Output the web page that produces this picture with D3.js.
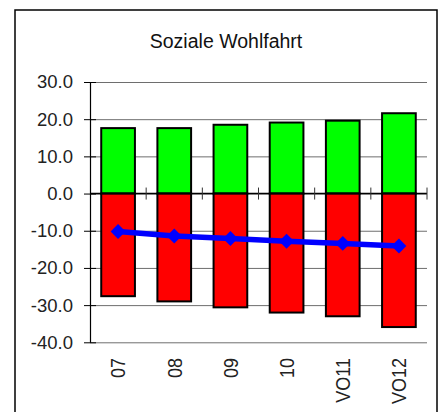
<!DOCTYPE html>
<html>
<head>
<meta charset="utf-8">
<script src="https://cdn.jsdelivr.net/npm/d3@7"></script>
<style>
  body { margin: 0; background: #fff; }
  svg { display: block; font-family: "Liberation Sans", Arial, sans-serif; }
</style>
</head>
<body>
<svg id="chart" width="445" height="412"></svg>
<script>
// values
var categories = ["07", "08", "09", "10", "VO11", "VO12"];
var positive = [17.6, 17.6, 18.5, 19.1, 19.6, 21.6];
var negative = [-27.6, -29.0, -30.6, -32.0, -33.0, -35.9];
var balance = [-10.2, -11.4, -12.1, -12.8, -13.4, -14.1];
var yTicks = [30, 20, 10, 0, -10, -20, -30, -40];

var svg = d3.select("#chart");
var margin = {left: 90, right: 18, top: 82, bottom: 70};
var plotRight = 445 - margin.right;
var plotBottom = 412 - margin.bottom;

// outer frame
svg.append("rect")
    .attr("x", 15).attr("y", 10)
    .attr("width", 422).attr("height", 420)
    .attr("fill", "none")
    .attr("stroke", "#000")
    .attr("stroke-width", 1.5);

svg.append("text")
    .attr("x", 226).attr("y", 48)
    .attr("text-anchor", "middle")
    .attr("font-size", "19.5px")
    .attr("fill", "#111")
    .text("Soziale Wohlfahrt");

var x = d3.scaleBand()
    .domain(categories)
    .range([margin.left, plotRight])
    .padding(0);

var y = d3.scaleLinear()
    .domain([-40, 30])
    .range([plotBottom + 0.3, margin.top]);

var barW = x.bandwidth() * 0.6;
var fmt = function (d) { return d.toFixed(1); }; // plain hyphen like the original

// gridlines
svg.append("g")
    .attr("transform", "translate(" + margin.left + ",0)")
    .call(d3.axisLeft(y).tickValues(yTicks).tickSize(-(plotRight - margin.left)).tickFormat(""))
    .call(function (g) { g.select(".domain").remove(); })
    .selectAll("line")
    .attr("stroke", "#6e6e6e")
    .attr("stroke-width", 1);

// y axis
var yAxis = svg.append("g")
    .attr("transform", "translate(" + margin.left + ",0)")
    .call(d3.axisLeft(y).tickValues(yTicks).tickSizeInner(6).tickSizeOuter(0)
        .tickPadding(11).tickFormat(fmt));
yAxis.select(".domain").attr("stroke", "#000").attr("stroke-width", 1.2);
yAxis.selectAll(".tick line").attr("x1", 6).attr("stroke", "#000");
yAxis.selectAll(".tick text")
    .attr("font-size", "18.5px")
    .attr("fill", "#222")
    .attr("font-family", "Liberation Sans, Arial, sans-serif");

// bars
var bars = svg.append("g");
bars.selectAll(".pos")
    .data(categories)
    .enter().append("rect")
    .attr("class", "pos")
    .attr("x", function (d) { return x(d) + (x.bandwidth() - barW) / 2; })
    .attr("y", function (d, i) { return y(positive[i]); })
    .attr("width", barW)
    .attr("height", function (d, i) { return y(0) - y(positive[i]); })
    .attr("fill", "#00ff00")
    .attr("stroke", "#000")
    .attr("stroke-width", 2);

bars.selectAll(".neg")
    .data(categories)
    .enter().append("rect")
    .attr("class", "neg")
    .attr("x", function (d) { return x(d) + (x.bandwidth() - barW) / 2; })
    .attr("y", y(0))
    .attr("width", barW)
    .attr("height", function (d, i) { return y(negative[i]) - y(0); })
    .attr("fill", "#ff0000")
    .attr("stroke", "#000")
    .attr("stroke-width", 2);

// x axis on zero with crossing ticks at the category borders
var xAxis = svg.append("g");
xAxis.append("line")
    .attr("x1", margin.left).attr("x2", plotRight)
    .attr("y1", y(0)).attr("y2", y(0))
    .attr("stroke", "#000")
    .attr("stroke-width", 1.5);
xAxis.selectAll(".xt")
    .data(categories)
    .enter().append("line")
    .attr("x1", function (d) { return x(d) + x.bandwidth(); })
    .attr("x2", function (d) { return x(d) + x.bandwidth(); })
    .attr("y1", y(0) - 6).attr("y2", y(0) + 6)
    .attr("stroke", "#333")
    .attr("stroke-width", 1);

// category labels, rotated
svg.append("g").selectAll("text")
    .data(categories)
    .enter().append("text")
    .attr("transform", function (d) {
        return "translate(" + (x(d) + x.bandwidth() / 2) + ",358) rotate(-90) scale(1,1.12)";
    })
    .attr("text-anchor", "end")
    .attr("dy", "0.36em")
    .attr("font-size", "18px")
    .attr("fill", "#222")
    .text(function (d) { return d; });

// balance line
var line = d3.line()
    .x(function (d, i) { return x(categories[i]) + x.bandwidth() / 2; })
    .y(function (d) { return y(d); });

svg.append("path")
    .datum(balance)
    .attr("d", line)
    .attr("fill", "none")
    .attr("stroke", "#0000ff")
    .attr("stroke-width", 5.5);

svg.append("g").selectAll("path")
    .data(balance)
    .enter().append("path")
    .attr("d", d3.symbol().type(d3.symbolSquare).size(112))
    .attr("transform", function (d, i) {
        return "translate(" + (x(categories[i]) + x.bandwidth() / 2) + "," + y(d) + ") rotate(45)";
    })
    .attr("fill", "#0000ff");
</script>
</body>
</html>
